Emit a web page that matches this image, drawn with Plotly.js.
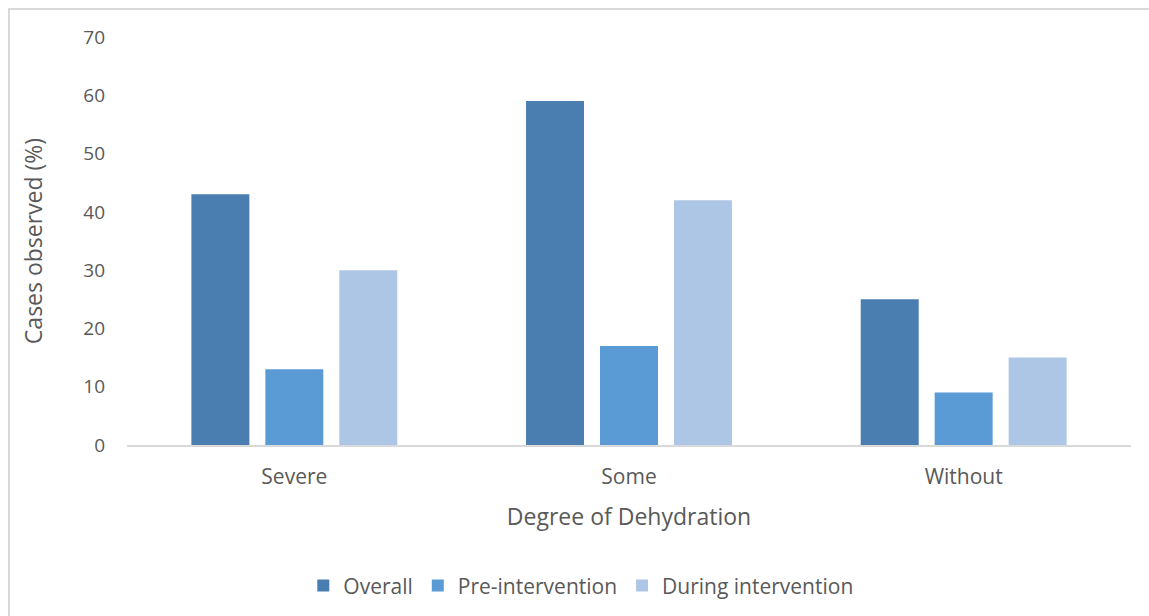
<!DOCTYPE html>
<html>
<head>
<meta charset="utf-8">
<script src="https://cdn.plot.ly/plotly-3.0.1.min.js"></script>
<style>
  html, body { margin: 0; padding: 0; background: #fff; }
  #frame { position: absolute; left: 8px; top: 8px; width: 1200px; height: 700px;
           border-top: 2px solid #d9d9d9; border-left: 2px solid #d9d9d9; box-sizing: border-box; }
  #chart { position: absolute; left: 0; top: 0; width: 1149px; height: 616px; }
</style>
</head>
<body>
<div id="frame"></div>
<div id="chart"></div>
<script>
const categories = ["Severe", "Some", "Without"];
const overall = [43, 59, 25];
const preIntervention = [13, 17, 9];
const duringIntervention = [30, 42, 15];
const seriesNames = ["Overall", "Pre-intervention", "During intervention"];
const colors = ["#4a7eb0", "#5b9bd5", "#adc6e6"];

const fontFam = "'Open Sans', sans-serif";
const series = [overall, preIntervention, duringIntervention];
const data = series.map((vals, i) => ({
  type: "bar",
  name: seriesNames[i],
  x: categories,
  y: vals,
  marker: { color: colors[i], line: { width: 0 } },
  hoverinfo: "x+y+name"
}));

const layout = {
  width: 1149,
  height: 616,
  paper_bgcolor: "rgba(0,0,0,0)",
  plot_bgcolor: "rgba(0,0,0,0)",
  margin: { l: 127, r: 18, t: 37, b: 171 },
  barmode: "group",
  bargap: 0.337,
  bargroupgap: 0.216,
  font: { family: fontFam, color: "#595959", size: 20 },
  xaxis: {
    type: "category",
    showline: true,
    linecolor: "#d9d9d9",
    linewidth: 2,
    ticks: "",
    showgrid: false,
    zeroline: false,
    tickfont: { size: 21, color: "#595959" },
    ticklabelstandoff: 12,
    title: { text: "Degree of Dehydration", font: { size: 23, color: "#595959" }, standoff: 20 },
    automargin: false
  },
  yaxis: {
    range: [0, 70],
    dtick: 10,
    showgrid: false,
    zeroline: false,
    showline: false,
    ticks: "",
    tickfont: { size: 19, color: "#595959" },
    ticklabelstandoff: 21,
    title: { text: "Cases observed (%)", font: { size: 23, color: "#595959" }, standoff: 34 },
    automargin: false
  },
  showlegend: true,
  legend: {
    orientation: "h",
    x: 0.452,
    xanchor: "center",
    yref: "container",
    y: 0.049,
    yanchor: "middle",
    font: { size: 21, color: "#595959" },
    traceorder: "normal",
    itemwidth: 30
  }
};

Plotly.newPlot("chart", data, layout, { displayModeBar: false });
</script>
</body>
</html>
